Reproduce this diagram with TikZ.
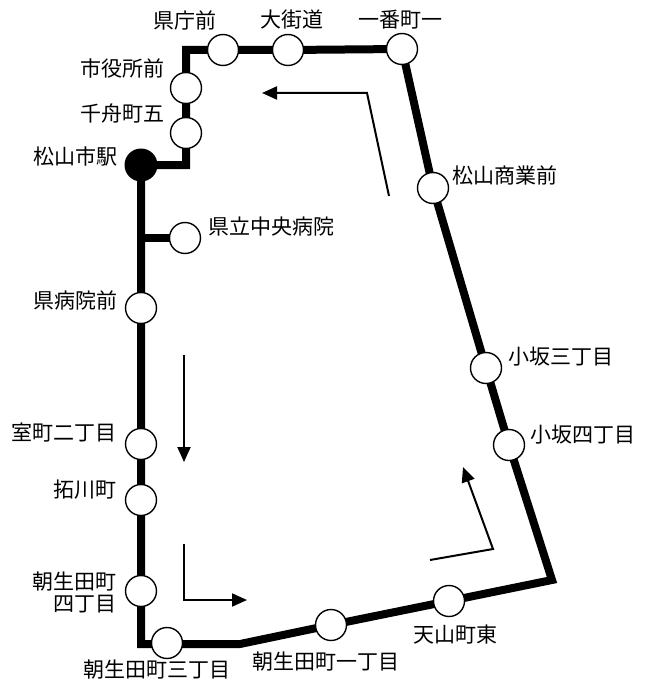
\documentclass[tikz,border=0pt]{standalone}
\usepackage{fontspec}
\setmainfont{Noto Sans CJK JP}
\usetikzlibrary{arrows.meta}
\tikzset{
  route/.style={line width=8pt, line join=miter},
  stop/.style={circle, draw, line width=1.4pt, fill=white, minimum size=31pt, inner sep=0pt},
  terminal/.style={circle, fill=black, minimum size=33pt, inner sep=0pt},
  dir/.style={line width=2pt, -{Triangle[length=15pt,width=13pt]}},
  stname/.style={font=\fontsize{21}{24}\selectfont, inner sep=0pt}
}
\begin{document}
\begin{tikzpicture}[x=1pt, y=-1pt]
\useasboundingbox (0,0) rectangle (651,682);
% stops
\coordinate (eki)      at (141,165);
\coordinate (chifune)  at (186,133);
\coordinate (shiyaku)  at (186,88);
\coordinate (kencho)   at (223,50);
\coordinate (okaido)   at (288,50);
\coordinate (ichiban)  at (402,49);
\coordinate (shogyo)   at (433,188);
\coordinate (kosaka3)  at (486,368);
\coordinate (kosaka4)  at (509,445);
\coordinate (tenzan)   at (449,601);
\coordinate (aso1)     at (331,625);
\coordinate (aso3)     at (167,643);
\coordinate (aso4)     at (141,591);
\coordinate (tachi)    at (141,500);
\coordinate (muro)     at (141,444);
\coordinate (byoin)    at (141,308);
\coordinate (chuo)     at (185,238);
%
\draw [route]
     (eki)
  -| (chifune)
  -- (shiyaku)
  |- (kencho)
  -- (okaido)
  -- (ichiban)
  -- (shogyo)
  -- (kosaka3)
  -- (kosaka4)
  -- (552,580) coordinate(corner)
  -- (tenzan)
  -- (aso1)
  -- (240,644)
  -- (141,644)
  -- (eki);
\draw [route] (141,238) -- (chuo);
%
\foreach \s in {chifune, shiyaku, kencho, okaido, ichiban, shogyo, kosaka3,
                kosaka4, tenzan, aso1, aso3, aso4, tachi, muro, byoin, chuo}
  \node [stop] at (\s) {};
\node [terminal] at (eki) {};
%
\node [stname] at (185,20)  {県庁前};
\node [stname] at (292,20)  {大街道};
\node [stname] at (400,20)  {一番町一};
\node [stname, anchor=east] at (165,68)  {市役所前};
\node [stname, anchor=east] at (165,114) {千舟町五};
\node [stname, anchor=east] at (118,157) {松山市駅};
\node [stname, anchor=west] at (208,227) {県立中央病院};
\node [stname, anchor=east] at (118,300) {県病院前};
\node [stname, anchor=east] at (117,433) {室町二丁目};
\node [stname, anchor=east] at (117,490) {拓川町};
\node [stname, anchor=east, align=right, font=\fontsize{21}{22}\selectfont] at (117,592) {朝生田町\\四丁目};
\node [stname] at (157,670) {朝生田町三丁目};
\node [stname] at (326,662) {朝生田町一丁目};
\node [stname] at (455,635) {天山町東};
\node [stname, anchor=west] at (452,175) {松山商業前};
\node [stname, anchor=west] at (508,357) {小坂三丁目};
\node [stname, anchor=west] at (530,435) {小坂四丁目};
%
\draw [dir] (389,196) -- (367,93) -- (262,93);
\draw [dir] (184,355) -- (184,462);
\draw [dir] (184,544) -- (184,600) -- (247,600);
\draw [dir] (430,560) -- (493,549) -- (463,467);
\end{tikzpicture}
\end{document}
